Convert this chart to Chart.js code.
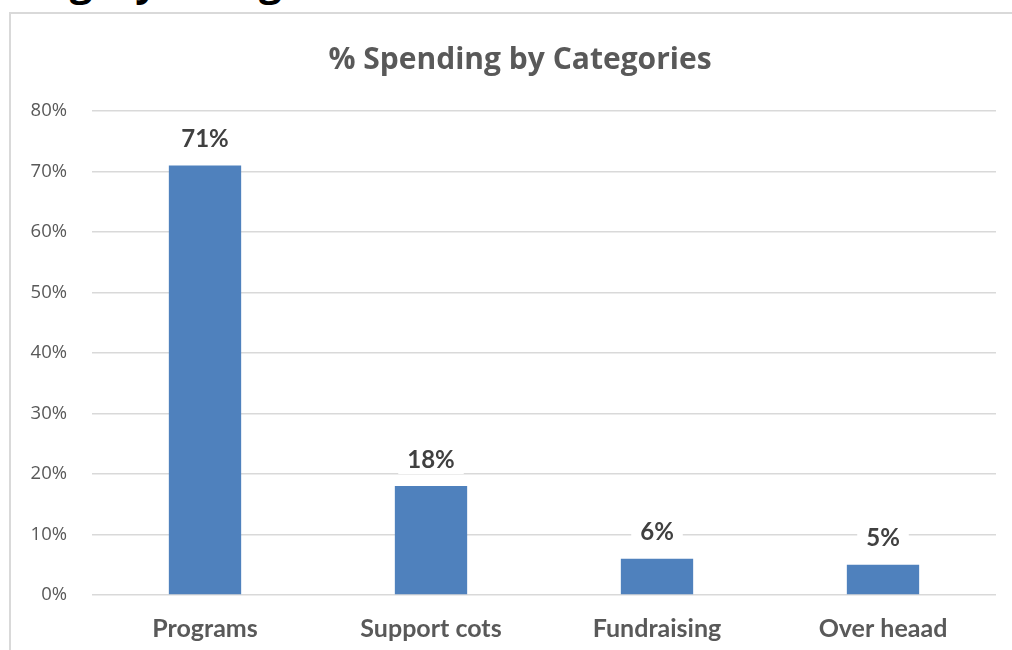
<!DOCTYPE html>
<html>
<head>
<meta charset="utf-8">
<script src="https://cdn.jsdelivr.net/npm/chart.js@4"></script>
<style>
    html, body { margin: 0; padding: 0; background: #ffffff; overflow: hidden; }
    body { width: 1012px; height: 650px; position: relative; }
    #heading {
        position: absolute; left: -21px; top: -39px;
        font: bold 40px "Open Sans"; line-height: 40px; color: #000000; white-space: nowrap;
    }
    #frame {
        position: absolute; left: 9px; top: 12px; width: 1100px; height: 700px;
        border: 2px solid #d9d9d9; background: #ffffff;
    }
    #wrap { position: absolute; left: 0; top: 0; width: 1012px; height: 650px; }
</style>
</head>
<body>
<div id="heading">Category Categories</div>
<div id="frame"></div>
<div id="wrap"><canvas id="spendChart"></canvas></div>
<script>
// Veriler
const categories = ['Programs', 'Support cots', 'Fundraising', 'Over heaad'];
const spending = [71, 18, 6, 5];
const yTicks = [0, 10, 20, 30, 40, 50, 60, 70, 80];
const chartTitle = '% Spending by Categories';

const gray = '#595959';

// Başlık: çerçevenin ortasına göre konumlanır
const frameTitle = {
    id: 'frameTitle',
    beforeDraw(chart) {
        const ctx = chart.ctx;
        ctx.save();
        ctx.font = 'bold 30px "Open Sans"';
        ctx.fillStyle = gray;
        ctx.textAlign = 'center';
        ctx.textBaseline = 'middle';
        ctx.fillText(chartTitle, 520, 60);
        ctx.restore();
    }
};

// Çubukların üstüne beyaz zeminli etiket yaz
const valueLabels = {
    id: 'valueLabels',
    afterDatasetsDraw(chart) {
        const ctx = chart.ctx;
        const meta = chart.getDatasetMeta(0);
        ctx.save();
        ctx.font = 'bold 24px Lato';
        ctx.textAlign = 'center';
        ctx.textBaseline = 'middle';
        meta.data.forEach(function(bar, i) {
            const text = spending[i] + '%';
            const w = ctx.measureText(text).width + 18;
            const cy = bar.y - 27;
            ctx.fillStyle = '#ffffff';
            ctx.fillRect(bar.x - w / 2, cy - 15, w, 30);
            ctx.fillStyle = '#404040';
            ctx.fillText(text, bar.x, cy + 1);
        });
        ctx.restore();
    }
};

new Chart(document.getElementById('spendChart'), {
    type: 'bar',
    data: {
        labels: categories,
        datasets: [{
            data: spending,
            backgroundColor: '#4f81bd',
            borderWidth: 0,
            barPercentage: 0.32,
            categoryPercentage: 1
        }]
    },
    options: {
        responsive: true,
        maintainAspectRatio: false,
        animation: false,
        layout: { padding: { left: 0, right: 16, top: 111, bottom: 0 } },
        plugins: {
            legend: { display: false },
            tooltip: { enabled: false },
            title: { display: false }
        },
        scales: {
            x: {
                grid: { display: false },
                border: { display: false },
                ticks: {
                    color: gray,
                    padding: 11,
                    font: { family: 'Lato', size: 25, weight: 'bold', lineHeight: 1.2 }
                },
                afterFit(scale) { scale.height = 55; }
            },
            y: {
                min: 0,
                max: 80,
                afterBuildTicks(scale) {
                    scale.ticks = yTicks.map(v => ({ value: v }));
                },
                grid: { color: '#d9d9d9', lineWidth: 1.5, drawTicks: false },
                border: { display: false },
                ticks: {
                    color: gray,
                    padding: 25,
                    font: { family: 'Open Sans', size: 18.5 },
                    callback: v => v + '%'
                },
                afterFit(scale) { scale.width = 92; }
            }
        }
    },
    plugins: [frameTitle, valueLabels]
});
</script>
</body>
</html>
